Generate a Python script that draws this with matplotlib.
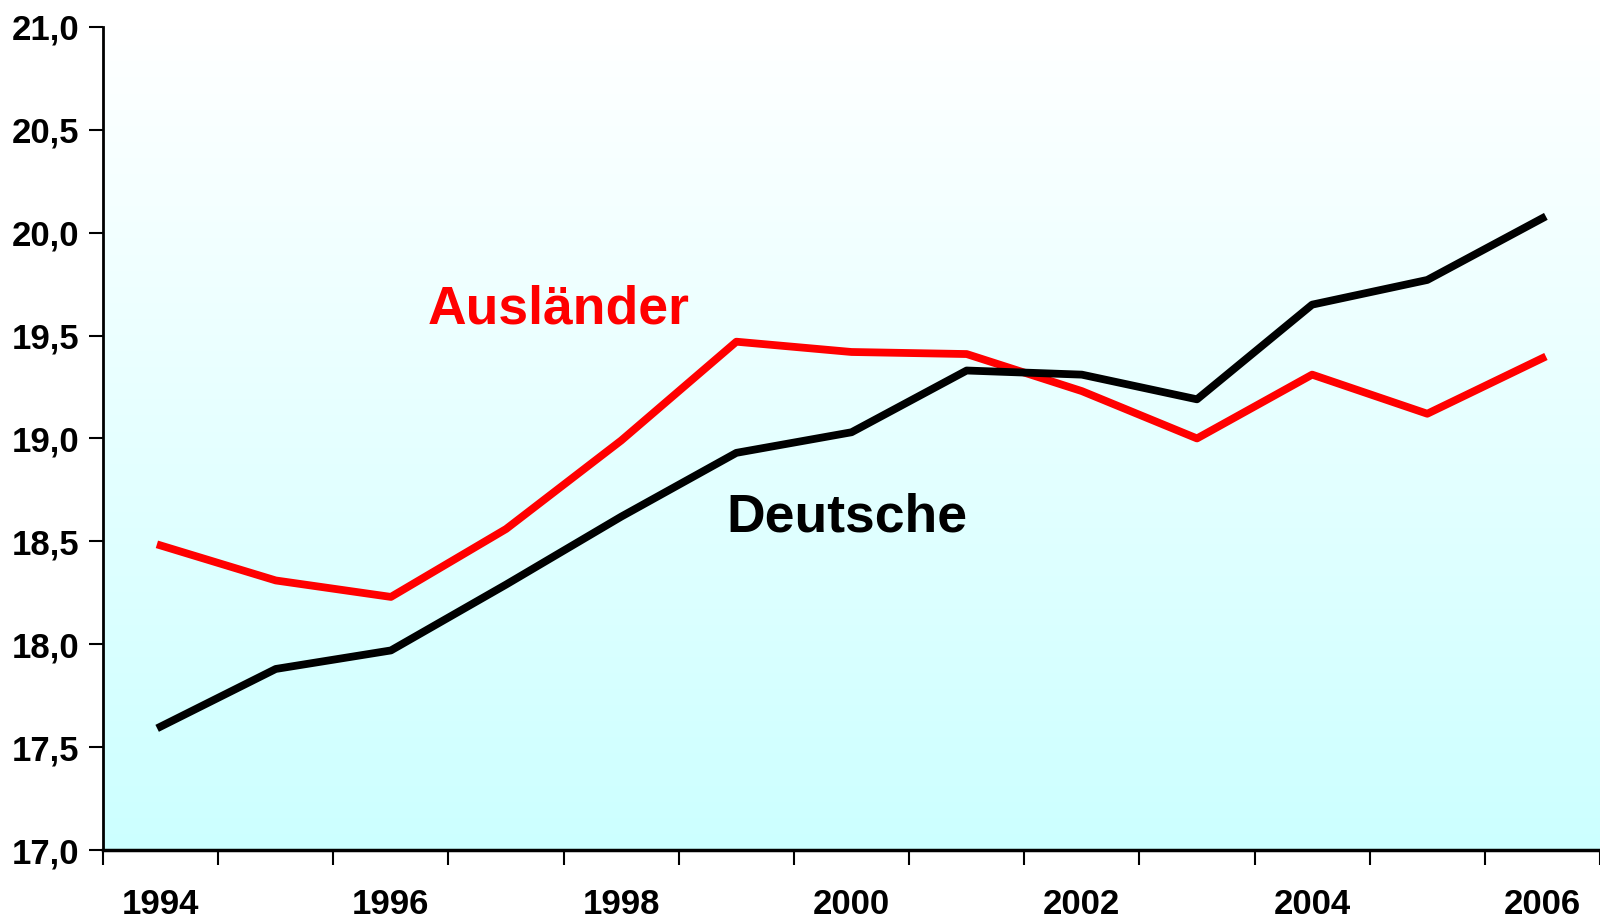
import numpy as np
import matplotlib
matplotlib.use("Agg")
import matplotlib.pyplot as plt
from matplotlib.colors import LinearSegmentedColormap

# Daten
jahre = [1994, 1995, 1996, 1997, 1998, 1999, 2000, 2001, 2002, 2003, 2004, 2005, 2006]
auslaender = [18.48, 18.31, 18.23, 18.56, 18.99, 19.47, 19.42, 19.41, 19.23, 19.00, 19.31, 19.12, 19.39]
deutsche = [17.60, 17.88, 17.97, 18.29, 18.62, 18.93, 19.03, 19.33, 19.31, 19.19, 19.65, 19.77, 20.07]
y_ticks = [17.0, 17.5, 18.0, 18.5, 19.0, 19.5, 20.0, 20.5, 21.0]

plt.rcParams['font.family'] = ['Liberation Sans', 'DejaVu Sans']

fig = plt.figure(figsize=(16, 9.24), dpi=100)
ax = fig.add_axes([0.0644, 0.080, 0.9356, 0.891])

x = np.arange(len(jahre))

# Hintergrund-Verlauf weiss -> hellcyan
cmap = LinearSegmentedColormap.from_list('bg', ['#ffffff', '#ccffff'])
grad = np.linspace(0, 1, 256).reshape(-1, 1)
ax.imshow(grad, aspect='auto', cmap=cmap, extent=[0, 1, 0, 1],
          transform=ax.transAxes, zorder=0)

ax.plot(x, auslaender, color='#ff0000', lw=5.6, zorder=3)
ax.plot(x, deutsche, color='black', lw=5.6, zorder=3)

ax.set_xlim(-0.5, len(jahre) - 0.5)
ax.set_ylim(17.0, 21.0)

ax.set_yticks(y_ticks)
ax.set_yticklabels([f"{v:.1f}".replace('.', ',') for v in y_ticks],
                   fontweight='bold', fontsize=25)

ax.set_xticks(x[::2])
ax.set_xticklabels([str(j) for j in jahre[::2]], fontweight='bold', fontsize=25)
ax.set_xticks(np.arange(-0.5, len(jahre)), minor=True)
ax.tick_params(axis='x', which='major', length=0, pad=27)
ax.tick_params(axis='x', which='minor', length=11, width=1.5, direction='out')
ax.tick_params(axis='y', length=10, width=1.5, direction='out', pad=7)

for s in ['top', 'right']:
    ax.spines[s].set_visible(False)
ax.spines['left'].set_linewidth(2)
ax.spines['bottom'].set_linewidth(2.5)

ax.text(2.32, 19.56, 'Ausländer', color='#ff0000', fontsize=38.5, fontweight='bold',
        ha='left', va='baseline', zorder=4)
ax.text(4.91, 18.55, 'Deutsche', color='black', fontsize=38.5, fontweight='bold',
        ha='left', va='baseline', zorder=4)

fig.savefig('out.png', dpi=100)
